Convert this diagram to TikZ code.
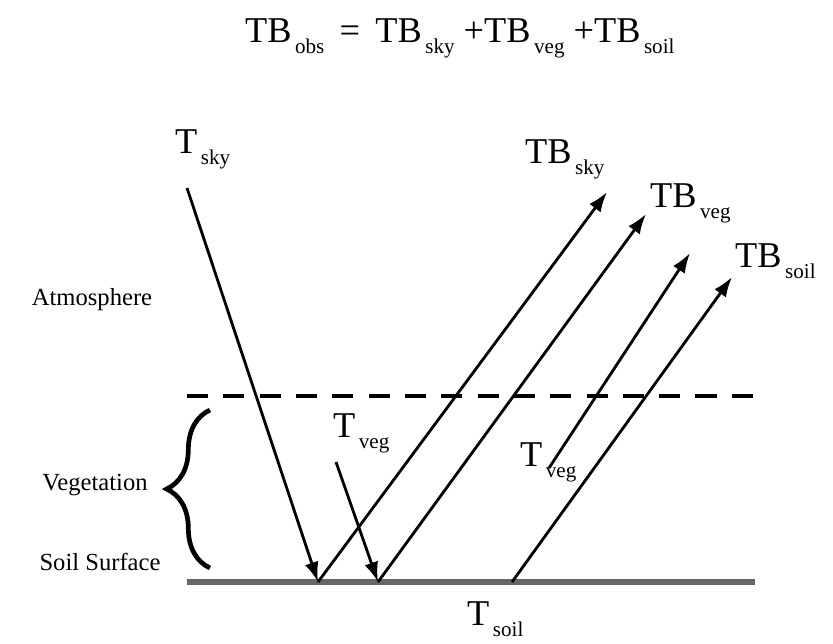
\documentclass[tikz,border=0pt]{standalone}
\usepackage{fontspec}
\setmainfont{Liberation Serif}
\usepackage{tikz}
\usetikzlibrary{arrows.meta,decorations.pathreplacing}
\definecolor{soilgray}{HTML}{666666}
\newcommand\lsub[1]{\kern3pt\raisebox{-10pt}{\fontsize{18}{18}\selectfont #1}}

\begin{document}
\begin{tikzpicture}[x=0.3mm,y=-0.3mm,
  ray/.style={-{Latex[length=6mm,width=4.2mm]},line width=2.4pt},
  lbl/.style={inner sep=0pt,anchor=base west,font=\fontsize{31}{31}\selectfont},
  layer/.style={inner sep=0pt,font=\fontsize{21}{21}\selectfont}
]
\useasboundingbox (0,0) rectangle (833,643);
\node[lbl] (sum) at (245,42) {TB\lsub{obs}\hspace{13pt}=\hspace{13pt}TB\lsub{sky} +TB\lsub{veg} +TB\lsub{soil}};
\node[layer] (atmo) at (92,300) {Atmosphere};
\node[layer] (vegl) at (95,485) {Vegetation};
\node[layer] (soill) at (100,562) {Soil Surface};
\node[lbl] (tsky) at (175,153) {T\lsub{sky}};
\node[lbl] (tbsky) at (525,163) {TB\lsub{sky}};
\node[lbl] (tbveg) at (650,207) {TB\lsub{veg}};
\node[lbl] (tbsoil) at (735,267) {TB\lsub{soil}};
\node[lbl] (tveg) at (333,437) {T\lsub{veg}};
\node[lbl] (tvegup) at (520,466) {T\lsub{veg}};
\node[lbl] (tsoil) at (467,625) {T\lsub{soil}};
\coordinate (gl) at (187,582);
\coordinate (gr) at (755,582);
\coordinate (dl) at (187,396);
\coordinate (dr) at (755,396);
\coordinate (skytop) at (187,188);
\coordinate (skyhit) at (318,582);
\coordinate (skyout) at (607,192);
\coordinate (vegtop) at (336,462);
\coordinate (veghit) at (378,582);
\coordinate (vegout) at (646,214);
\coordinate (vegup) at (549,468);
\coordinate (vegupend) at (690,253);
\coordinate (soilhit) at (512,582);
\coordinate (soilout) at (732,277);
\coordinate (bracebot) at (210,568);
\coordinate (bracetop) at (210,410);
\draw[soilgray,line width=4.5pt] (gl) -- (gr);
\draw[line width=3pt,dash pattern=on 18pt off 13pt] (dl) -- (dr);
\draw[decorate,decoration={brace,amplitude=13mm},line width=4pt] (bracebot) -- (bracetop);
\draw[ray] (skytop) -- (skyhit);
\draw[ray] (skyhit) -- (skyout);
\draw[ray] (vegtop) -- (veghit);
\draw[ray] (veghit) -- (vegout);
\draw[ray] (vegup) -- (vegupend);
\draw[ray] (soilhit) -- (soilout);
\end{tikzpicture}
\end{document}
